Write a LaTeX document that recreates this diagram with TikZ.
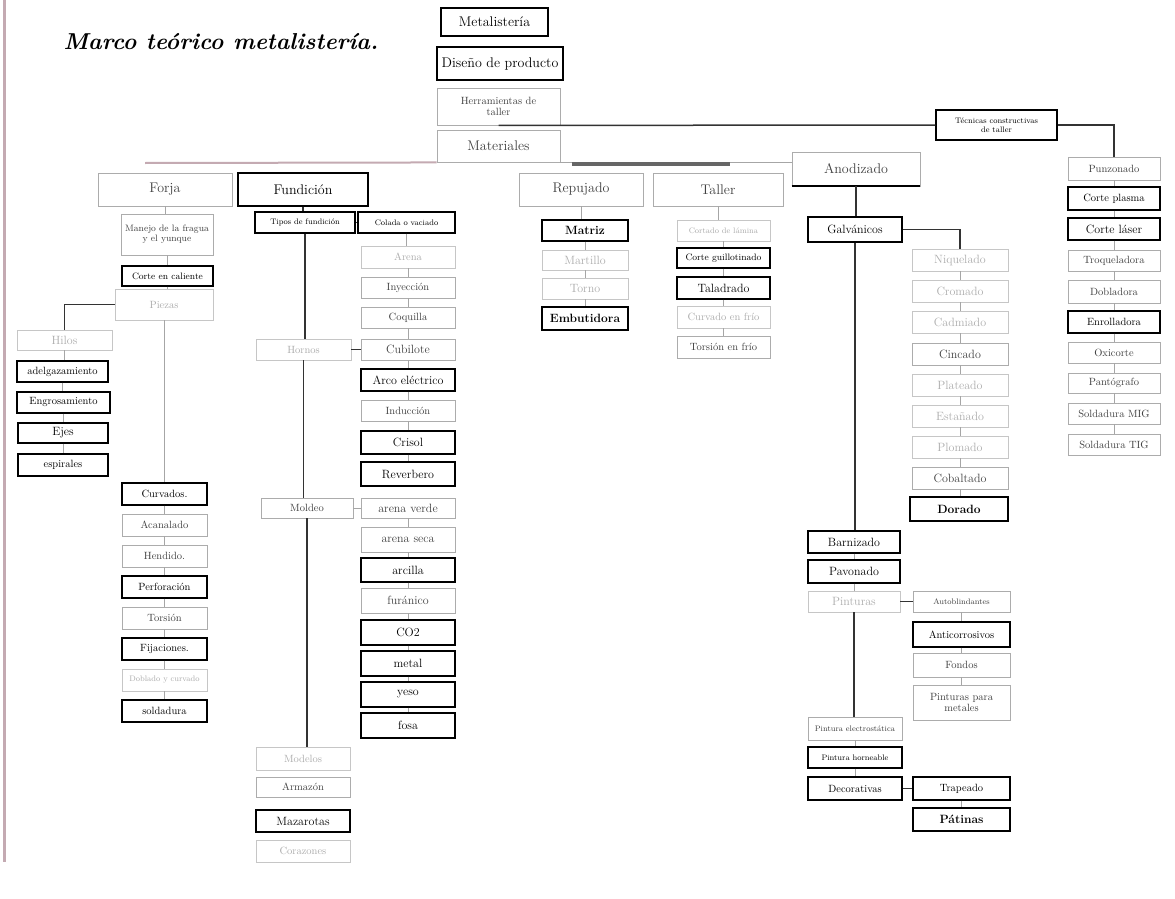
\documentclass[tikz,border=0pt]{standalone}
\usepackage{fontspec}
\definecolor{mauve}{RGB}{196,170,178}
\definecolor{tx}{RGB}{45,45,45}
\tikzset{
  b/.style={draw=gray!65,line width=0.9pt,rectangle,inner sep=0.5pt,align=center,
            text=tx,font=\fontsize{12}{13}\selectfont},
  dk/.style={draw=black,line width=1.4pt,text=black},
  m/.style={draw=gray!65,text=black!75},
  lt/.style={draw=gray!45,text=gray!65},
  big/.style={font=\fontsize{14}{15}\selectfont},
  sm/.style={font=\fontsize{10.5}{11.5}\selectfont},
  ms/.style={font=\fontsize{9.3}{10.3}\selectfont},
  xs/.style={font=\fontsize{8}{9}\selectfont},
  bf/.style={font=\fontsize{12}{13}\selectfont\bfseries},
  ln/.style={draw=black!80,line width=1.1pt},
  lnl/.style={draw=gray!70,line width=0.9pt},
  mv/.style={draw=mauve,line width=2pt},
  bar/.style={draw=black!60,line width=3.5pt}
}
\newcommand{\mybx}[7][]{\node[b,#1,minimum width={(#5-#3)*1pt},minimum height={(#6-#4)*1pt}] (#2) at ({(#3+#5)/2},{(#4+#6)/2}) {#7};}
\begin{document}
\begin{tikzpicture}[x=1pt,y=-1pt]
\useasboundingbox[fill=white] (0,0) rectangle (1175,899);
\draw[mauve,line width=3pt] (4,0) -- (4,862);
\node[anchor=west,font=\fontsize{23}{28}\selectfont\bfseries\itshape] (title) at (60,42) {Marco teórico metalistería.};

% top column
\mybx[dk,big]{met}{441}{8}{548}{36}{Metalistería}
\mybx[dk,big]{dis}{437}{47}{563}{80}{Diseño de producto}
\mybx[m,sm]{her}{437}{88}{560}{125}{Herramientas de\\taller}
\mybx[m,big]{mat}{437}{130}{560}{162}{Materiales}
\mybx[dk,xs]{tec}{936}{110}{1057}{140}{Técnicas constructivas\\de taller}

% main row
\mybx[m,big]{forja}{98}{173}{232}{206}{Forja}
\mybx[dk,big]{fund}{238}{173}{368}{206}{Fundición}
\mybx[m,big]{rep}{519}{173}{643}{206}{Repujado}
\mybx[m,big]{tal}{653}{173}{783}{206}{Taller}
\mybx[m,big]{anod}{792}{152}{920}{186}{Anodizado}

% Forja
\mybx[m,ms]{manejo}{121}{214}{213}{255}{Manejo de la fragua\\y el yunque}
\mybx[dk,ms]{corte}{122}{266}{213}{286}{Corte en caliente}
\mybx[lt,sm]{piezas}{115}{289}{213}{320}{Piezas}
\mybx[lt]{hilos}{17}{330}{112}{350}{Hilos}
\mybx[dk,sm]{adelg}{17}{361}{108}{382}{adelgazamiento}
\mybx[dk,sm]{engros}{17}{392}{110}{413}{Engrosamiento}
\mybx[dk]{ejes}{18}{423}{108}{443}{Ejes}
\mybx[dk,sm]{espir}{18}{454}{108}{476}{espirales}
\mybx[dk,sm]{curv}{122}{483}{207}{505}{Curvados.}
\mybx[m,sm]{acan}{122}{514}{207}{536}{Acanalado}
\mybx[m,sm]{hend}{122}{545}{207}{567}{Hendido.}
\mybx[dk,sm]{perf}{122}{576}{207}{598}{Perforación}
\mybx[m,sm]{tors}{122}{607}{207}{629}{Torsión}
\mybx[dk,sm]{fij}{122}{638}{207}{660}{Fijaciones.}
\mybx[lt,xs]{dobl}{122}{669}{207}{691}{Doblado y curvado}
\mybx[dk,sm]{sold}{122}{700}{207}{722}{soldadura}

% Fundicion
\mybx[dk,xs]{tipos}{255}{212}{355}{233}{Tipos de fundición}
\mybx[dk,xs]{colada}{358}{212}{455}{233}{Colada o vaciado}
\mybx[lt,sm]{arena}{361}{246}{455}{268}{Arena}
\mybx[m,sm]{iny}{361}{277}{455}{298}{Inyección}
\mybx[m,sm]{coq}{361}{307}{455}{328}{Coquilla}
\mybx[lt,sm]{hornos}{256}{339}{351}{360}{Hornos}
\mybx[m]{cubil}{361}{339}{455}{360}{Cubilote}
\mybx[dk]{arco}{361}{369}{455}{391}{Arco eléctrico}
\mybx[m,sm]{induc}{361}{400}{455}{421}{Inducción}
\mybx[dk]{crisol}{361}{431}{455}{454}{Crisol}
\mybx[dk]{reverb}{361}{462}{455}{486}{Reverbero}
\mybx[m,sm]{moldeo}{261}{498}{353}{518}{Moldeo}
\mybx[m]{averde}{361}{498}{455}{518}{arena verde}
\mybx[m]{aseca}{361}{527}{455}{552}{arena seca}
\mybx[dk]{arcilla}{361}{558}{455}{582}{arcilla}
\mybx[m]{furan}{361}{588}{455}{613}{furánico}
\mybx[dk]{co2}{361}{620}{455}{645}{CO2}
\mybx[dk]{metal}{361}{651}{455}{676}{metal}
\mybx[dk]{yeso}{361}{682}{455}{707}{yeso}
\mybx[dk]{fosa}{361}{713}{455}{738}{fosa}
\mybx[lt,sm]{modelos}{256}{747}{350}{770}{Modelos}
\mybx[m,sm]{armaz}{256}{777}{350}{797}{Armazón}
\mybx[dk]{mazar}{256}{810}{350}{832}{Mazarotas}
\mybx[lt,sm]{coraz}{256}{840}{350}{862}{Corazones}

% Repujado
\mybx[dk,bf]{matriz}{542}{220}{628}{241}{Matriz}
\mybx[lt]{mart}{542}{250}{628}{270}{Martillo}
\mybx[lt]{torno}{542}{278}{628}{299}{Torno}
\mybx[dk,bf]{embut}{542}{307}{628}{330}{Embutidora}

% Taller
\mybx[lt,xs]{corl}{677}{220}{770}{241}{Cortado de lámina}
\mybx[dk,ms]{cguill}{677}{248}{770}{268}{Corte guillotinado}
\mybx[dk]{talad}{677}{277}{770}{299}{Taladrado}
\mybx[lt,sm]{curvf}{677}{306}{770}{328}{Curvado en frío}
\mybx[m,sm]{torsf}{677}{336}{770}{358}{Torsión en frío}

% Anodizado
\mybx[dk]{galv}{808}{217}{902}{242}{Galvánicos}
\mybx[lt]{niq}{912}{249}{1008}{271}{Niquelado}
\mybx[lt]{crom}{912}{280}{1008}{302}{Cromado}
\mybx[lt]{cadm}{912}{311}{1008}{333}{Cadmiado}
\mybx[m]{cinc}{912}{343}{1008}{365}{Cincado}
\mybx[lt]{plat}{912}{374}{1008}{396}{Plateado}
\mybx[lt]{estan}{912}{405}{1008}{427}{Estañado}
\mybx[lt]{plom}{912}{436}{1008}{458}{Plomado}
\mybx[m]{cobal}{912}{467}{1008}{489}{Cobaltado}
\mybx[dk,bf]{dorado}{910}{497}{1008}{521}{Dorado}
\mybx[dk]{barn}{808}{531}{900}{553}{Barnizado}
\mybx[dk]{pav}{808}{560}{900}{583}{Pavonado}
\mybx[lt]{pint}{808}{591}{900}{612}{Pinturas}
\mybx[m,xs]{autob}{913}{591}{1010}{612}{Autoblindantes}
\mybx[dk,sm]{antic}{913}{622}{1010}{647}{Anticorrosivos}
\mybx[m,sm]{fondos}{913}{653}{1010}{677}{Fondos}
\mybx[m,sm]{pmet}{913}{685}{1010}{720}{Pinturas para\\metales}
\mybx[m,xs]{pelec}{808}{717}{902}{740}{Pintura electrostática}
\mybx[dk,xs]{phorn}{808}{747}{902}{768}{Pintura horneable}
\mybx[dk,sm]{decor}{808}{777}{902}{800}{Decorativas}
\mybx[dk,sm]{trap}{913}{777}{1010}{800}{Trapeado}
\mybx[dk,bf]{pat}{913}{808}{1010}{831}{Pátinas}

% right column
\mybx[m,sm]{punz}{1068}{157}{1160}{180}{Punzonado}
\mybx[dk,sm]{cplas}{1068}{187}{1160}{210}{Corte plasma}
\mybx[dk]{claser}{1068}{218}{1160}{240}{Corte láser}
\mybx[m,sm]{troq}{1068}{250}{1160}{271}{Troqueladora}
\mybx[m,sm]{dobl2}{1068}{280}{1160}{303}{Dobladora}
\mybx[dk,sm]{enrol}{1068}{311}{1160}{333}{Enrolladora}
\mybx[m,sm]{oxi}{1068}{342}{1160}{363}{Oxicorte}
\mybx[m,sm]{pant}{1068}{373}{1160}{393}{Pantógrafo}
\mybx[m,sm]{smig}{1068}{403}{1160}{424}{Soldadura MIG}
\mybx[m,sm]{stig}{1068}{434}{1160}{455}{Soldadura TIG}

% connectors
\coordinate (mvend) at (145,163);
\coordinate (barL) at (572,164);
\coordinate (barR) at (730,164);
\draw[mv] (mat.south west) -- (mvend);
\draw[lnl] (mat.south east) -- (mat.south east -| anod.west);
\draw[bar] (barL) -- (barR);
\draw[ln,line width=1.5pt] (her.south) -- (tec.west);
\draw[ln] (tec.east) -| (punz.north);
\draw[line width=2pt] (anod.south west) -- (anod.south east);

\draw[lnl] (forja.south) -- (forja.south |- manejo.north);
\draw[lnl] (manejo.south) -- (manejo.south |- corte.north);
\draw[lnl] (corte.south) -- (corte.south |- piezas.north);
\draw[ln] (piezas.west) -| (hilos.north);
\draw[lnl] (piezas.south) -- (piezas.south |- curv.north);
\draw[ln] (fund.south) -- (fund.south |- tipos.north);
\draw[ln] (tipos.east) -- (colada.west);
\draw[ln] (tipos.south) -- (tipos.south |- hornos.north);
\draw[ln,line width=1.6pt] (hornos.east) -- (cubil.west);
\draw[ln] (hornos.south) -- (hornos.south |- moldeo.north);
\draw[lnl] (moldeo.east) -- (averde.west);
\draw[ln] (moldeo.south) -- (moldeo.south |- modelos.north);
\draw[ln] (anod.south) -- (anod.south |- galv.north);
\draw[ln] (galv.east) -| (niq.north);
\draw[ln] (galv.south) -- (galv.south |- barn.north);
\draw[ln] (pint.east) -- (autob.west);
\draw[ln] (pint.south) -- (pint.south |- pelec.north);
\draw[ln] (decor.east) -- (trap.west);

\foreach \a/\c in {hilos/adelg,adelg/engros,engros/ejes,ejes/espir,
  curv/acan,acan/hend,hend/perf,perf/tors,tors/fij,fij/dobl,dobl/sold,
  colada/arena,arena/iny,iny/coq,coq/cubil,cubil/arco,arco/induc,induc/crisol,crisol/reverb,
  averde/aseca,aseca/arcilla,arcilla/furan,furan/co2,co2/metal,metal/yeso,yeso/fosa,
  rep/matriz,matriz/mart,mart/torno,torno/embut,
  tal/corl,corl/cguill,cguill/talad,talad/curvf,curvf/torsf,
  niq/crom,crom/cadm,cadm/cinc,cinc/plat,plat/estan,estan/plom,plom/cobal,cobal/dorado,
  barn/pav,pav/pint,autob/antic,antic/fondos,fondos/pmet,pelec/phorn,phorn/decor,trap/pat,
  punz/cplas,cplas/claser,claser/troq,troq/dobl2,dobl2/enrol,enrol/oxi,oxi/pant,pant/smig,smig/stig}
  {\draw[lnl] (\a.south) -- (\a.south |- \c.north);}
\end{tikzpicture}
\end{document}
